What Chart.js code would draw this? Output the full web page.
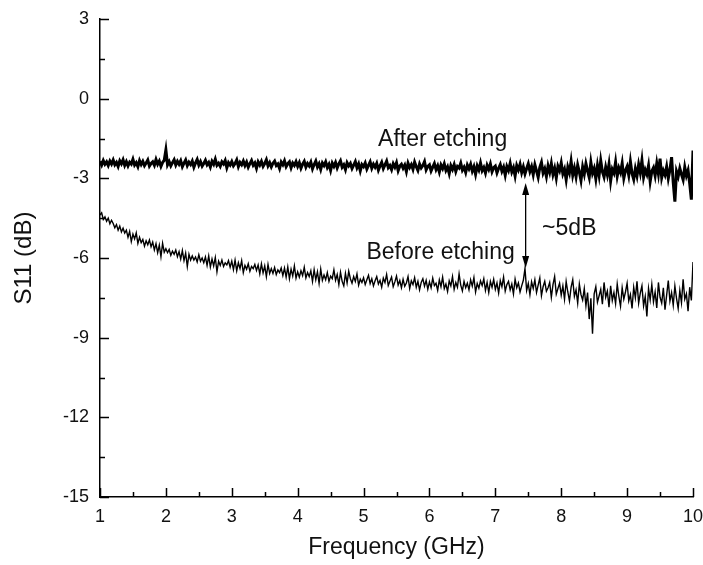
<!DOCTYPE html>
<html>
<head>
<meta charset="utf-8">
<script src="https://cdn.jsdelivr.net/npm/chart.js"></script>
<style>
  body { margin: 0; background: #fff; }
</style>
</head>
<body>
<canvas id="myChart" width="703" height="565"></canvas>
<script>
// frequency points (GHz), one row = 0.2 GHz
const freq = [
  1.000,1.025,1.050,1.075,1.100,1.125,1.150,1.175,
  1.200,1.225,1.250,1.275,1.300,1.325,1.350,1.375,
  1.400,1.425,1.450,1.475,1.500,1.525,1.550,1.575,
  1.600,1.625,1.650,1.675,1.700,1.725,1.750,1.775,
  1.800,1.825,1.850,1.875,1.900,1.925,1.950,1.975,
  2.000,2.025,2.050,2.075,2.100,2.125,2.150,2.175,
  2.200,2.225,2.250,2.275,2.300,2.325,2.350,2.375,
  2.400,2.425,2.450,2.475,2.500,2.525,2.550,2.575,
  2.600,2.625,2.650,2.675,2.700,2.725,2.750,2.775,
  2.800,2.825,2.850,2.875,2.900,2.925,2.950,2.975,
  3.000,3.025,3.050,3.075,3.100,3.125,3.150,3.175,
  3.200,3.225,3.250,3.275,3.300,3.325,3.350,3.375,
  3.400,3.425,3.450,3.475,3.500,3.525,3.550,3.575,
  3.600,3.625,3.650,3.675,3.700,3.725,3.750,3.775,
  3.800,3.825,3.850,3.875,3.900,3.925,3.950,3.975,
  4.000,4.025,4.050,4.075,4.100,4.125,4.150,4.175,
  4.200,4.225,4.250,4.275,4.300,4.325,4.350,4.375,
  4.400,4.425,4.450,4.475,4.500,4.525,4.550,4.575,
  4.600,4.625,4.650,4.675,4.700,4.725,4.750,4.775,
  4.800,4.825,4.850,4.875,4.900,4.925,4.950,4.975,
  5.000,5.025,5.050,5.075,5.100,5.125,5.150,5.175,
  5.200,5.225,5.250,5.275,5.300,5.325,5.350,5.375,
  5.400,5.425,5.450,5.475,5.500,5.525,5.550,5.575,
  5.600,5.625,5.650,5.675,5.700,5.725,5.750,5.775,
  5.800,5.825,5.850,5.875,5.900,5.925,5.950,5.975,
  6.000,6.025,6.050,6.075,6.100,6.125,6.150,6.175,
  6.200,6.225,6.250,6.275,6.300,6.325,6.350,6.375,
  6.400,6.425,6.450,6.475,6.500,6.525,6.550,6.575,
  6.600,6.625,6.650,6.675,6.700,6.725,6.750,6.775,
  6.800,6.825,6.850,6.875,6.900,6.925,6.950,6.975,
  7.000,7.025,7.050,7.075,7.100,7.125,7.150,7.175,
  7.200,7.225,7.250,7.275,7.300,7.325,7.350,7.375,
  7.400,7.425,7.450,7.475,7.500,7.525,7.550,7.575,
  7.600,7.625,7.650,7.675,7.700,7.725,7.750,7.775,
  7.800,7.825,7.850,7.875,7.900,7.925,7.950,7.975,
  8.000,8.025,8.050,8.075,8.100,8.125,8.150,8.175,
  8.200,8.225,8.250,8.275,8.300,8.325,8.350,8.375,
  8.400,8.425,8.450,8.475,8.500,8.525,8.550,8.575,
  8.600,8.625,8.650,8.675,8.700,8.725,8.750,8.775,
  8.800,8.825,8.850,8.875,8.900,8.925,8.950,8.975,
  9.000,9.025,9.050,9.075,9.100,9.125,9.150,9.175,
  9.200,9.225,9.250,9.275,9.300,9.325,9.350,9.375,
  9.400,9.425,9.450,9.475,9.500,9.525,9.550,9.575,
  9.600,9.625,9.650,9.675,9.700,9.725,9.750,9.775,
  9.800,9.825,9.850,9.875,9.900,9.925,9.950,9.975,
  10.000
];

// S11 after etching (dB)
const afterEtching = [
  -2.36,-2.50,-2.33,-2.47,-2.38,-2.52,-2.35,-2.46,
  -2.31,-2.49,-2.40,-2.55,-2.34,-2.45,-2.30,-2.51,
  -2.37,-2.53,-2.39,-2.46,-2.28,-2.50,-2.41,-2.56,
  -2.33,-2.48,-2.36,-2.52,-2.42,-2.31,-2.54,-2.44,
  -2.38,-2.51,-2.29,-2.47,-2.35,-2.55,-2.40,-2.32,
  -1.93,-2.49,-2.37,-2.53,-2.41,-2.30,-2.50,-2.36,
  -2.47,-2.34,-2.56,-2.43,-2.31,-2.52,-2.39,-2.48,
  -2.35,-2.58,-2.42,-2.29,-2.50,-2.37,-2.54,-2.44,
  -2.32,-2.49,-2.40,-2.57,-2.36,-2.47,-2.28,-2.51,
  -2.43,-2.55,-2.38,-2.46,-2.33,-2.60,-2.41,-2.50,
  -2.37,-2.53,-2.44,-2.31,-2.56,-2.40,-2.49,-2.35,
  -2.52,-2.39,-2.58,-2.45,-2.33,-2.51,-2.42,-2.62,
  -2.38,-2.50,-2.36,-2.55,-2.44,-2.30,-2.53,-2.41,
  -2.57,-2.43,-2.35,-2.52,-2.46,-2.63,-2.39,-2.49,
  -2.34,-2.56,-2.45,-2.38,-2.60,-2.42,-2.51,-2.37,
  -2.55,-2.41,-2.62,-2.47,-2.36,-2.58,-2.44,-2.53,
  -2.39,-2.64,-2.48,-2.35,-2.57,-2.45,-2.66,-2.42,
  -2.52,-2.38,-2.59,-2.47,-2.70,-2.43,-2.55,-2.40,
  -2.61,-2.46,-2.34,-2.58,-2.49,-2.67,-2.41,-2.53,
  -2.44,-2.63,-2.50,-2.37,-2.60,-2.46,-2.72,-2.48,
  -2.56,-2.42,-2.65,-2.51,-2.38,-2.62,-2.47,-2.58,
  -2.44,-2.69,-2.53,-2.40,-2.63,-2.49,-2.35,-2.60,
  -2.52,-2.67,-2.45,-2.58,-2.41,-2.71,-2.54,-2.47,
  -2.62,-2.50,-2.74,-2.43,-2.59,-2.48,-2.66,-2.39,
  -2.56,-2.70,-2.46,-2.61,-2.52,-2.37,-2.68,-2.55,
  -2.49,-2.72,-2.58,-2.44,-2.67,-2.53,-2.76,-2.50,
  -2.63,-2.45,-2.70,-2.57,-2.82,-2.52,-2.66,-2.48,
  -2.74,-2.55,-2.61,-2.43,-2.69,-2.58,-2.78,-2.50,
  -2.64,-2.47,-2.73,-2.56,-2.85,-2.53,-2.68,-2.42,
  -2.71,-2.59,-2.80,-2.51,-2.66,-2.46,-2.75,-2.60,
  -2.54,-2.79,-2.62,-2.48,-2.73,-2.58,-2.88,-2.55,
  -2.70,-2.44,-2.76,-2.60,-2.91,-2.52,-2.68,-2.47,
  -2.78,-2.57,-2.83,-2.63,-2.45,-2.74,-2.56,-2.86,
  -2.49,-2.72,-2.96,-2.59,-2.40,-2.80,-2.64,-2.93,
  -2.53,-2.77,-2.44,-2.85,-2.62,-2.98,-2.55,-2.71,
  -2.42,-2.83,-2.66,-3.05,-2.58,-2.79,-2.36,-2.88,
  -2.61,-2.94,-2.50,-2.76,-3.08,-2.57,-2.84,-2.45,
  -2.72,-2.97,-2.40,-2.81,-2.63,-3.02,-2.52,-2.89,
  -2.34,-2.75,-2.95,-2.58,-2.86,-2.47,-3.10,-2.66,
  -2.80,-2.39,-2.92,-2.61,-2.78,-2.43,-2.99,-2.70,
  -2.55,-2.88,-2.37,-2.82,-3.04,-2.64,-2.91,-2.48,
  -2.79,-2.33,-2.96,-2.68,-2.85,-2.52,-3.12,-2.73,
  -2.60,-2.90,-2.44,-2.83,-2.26,-2.97,-2.71,-2.87,
  -2.56,-3.00,-2.68,-2.20,-3.15,-3.88,-2.74,-2.93,
  -2.62,-2.85,-3.05,-2.58,-2.90,-2.70,-3.20,-3.80,
  -1.95
];

// S11 before etching (dB)
const beforeEtching = [
  -4.38,-4.30,-4.55,-4.45,-4.62,-4.50,-4.71,-4.58,
  -4.70,-4.86,-4.74,-4.95,-4.80,-5.02,-4.88,-5.06,
  -4.95,-5.22,-5.00,-5.38,-5.10,-5.28,-5.05,-5.45,
  -5.22,-5.42,-5.30,-5.55,-5.35,-5.50,-5.32,-5.58,
  -5.40,-5.70,-5.46,-5.80,-5.52,-5.95,-5.45,-5.78,
  -5.65,-5.80,-5.68,-5.90,-5.74,-5.86,-5.70,-5.95,
  -5.76,-6.04,-5.72,-6.10,-5.82,-6.32,-5.86,-6.08,
  -5.92,-6.08,-5.96,-6.15,-5.88,-6.12,-6.00,-6.18,
  -5.96,-6.28,-5.92,-6.34,-6.04,-6.30,-5.98,-6.52,
  -6.12,-6.28,-6.08,-6.32,-6.18,-6.26,-6.10,-6.35,
  -6.12,-6.44,-6.08,-6.48,-6.18,-6.40,-6.10,-6.55,
  -6.28,-6.42,-6.22,-6.50,-6.32,-6.40,-6.24,-6.47,
  -6.26,-6.60,-6.22,-6.56,-6.30,-6.70,-6.24,-6.58,
  -6.40,-6.58,-6.36,-6.62,-6.45,-6.55,-6.38,-6.66,
  -6.38,-6.72,-6.34,-6.78,-6.42,-6.68,-6.30,-6.76,
  -6.52,-6.72,-6.48,-6.66,-6.35,-6.75,-6.55,-6.70,
  -6.48,-6.88,-6.44,-6.82,-6.52,-6.95,-6.42,-6.84,
  -6.64,-6.82,-6.55,-6.88,-6.68,-6.78,-6.45,-6.84,
  -6.62,-7.00,-6.54,-6.88,-7.05,-6.58,-6.94,-6.50,
  -6.78,-6.95,-6.70,-6.88,-6.60,-7.02,-6.80,-6.92,
  -6.74,-7.00,-6.82,-6.65,-6.96,-6.78,-7.05,-6.86,
  -6.70,-6.98,-6.84,-7.10,-6.76,-6.92,-6.62,-7.04,
  -6.88,-6.72,-7.08,-6.90,-6.68,-7.02,-6.85,-7.12,
  -6.80,-7.06,-6.94,-6.70,-7.15,-6.86,-7.00,-6.74,
  -7.10,-6.88,-7.20,-6.92,-6.78,-7.06,-6.84,-7.18,
  -6.90,-7.12,-6.76,-7.04,-6.95,-7.22,-6.82,-7.08,
  -6.72,-7.15,-6.98,-7.26,-6.86,-7.05,-6.70,-7.18,
  -6.92,-7.10,-6.60,-7.02,-7.24,-6.88,-7.12,-6.95,
  -7.20,-6.82,-7.06,-6.74,-7.28,-6.96,-7.14,-6.86,
  -7.04,-6.78,-7.22,-6.92,-7.30,-6.88,-7.10,-6.80,
  -7.18,-6.94,-7.32,-6.85,-7.08,-6.72,-7.25,-7.00,
  -6.88,-7.20,-6.98,-7.35,-6.80,-7.12,-6.94,-7.28,
  -7.05,-6.84,-6.40,-7.22,-6.96,-7.38,-6.90,-7.15,
  -6.82,-7.30,-7.02,-6.75,-7.42,-7.08,-6.88,-7.25,
  -7.12,-6.92,-7.48,-7.00,-6.70,-7.36,-7.15,-6.95,
  -7.40,-7.05,-7.55,-6.88,-7.28,-7.62,-7.10,-6.82,
  -7.45,-7.20,-7.70,-6.98,-7.38,-7.58,-7.15,-7.80,
  -7.30,-8.30,-7.52,-8.85,-7.35,-7.08,-7.66,-7.42,
  -7.18,-7.74,-6.92,-7.48,-7.25,-7.85,-7.05,-7.60,
  -7.30,-7.72,-6.98,-7.45,-7.82,-7.12,-7.55,-7.28,
  -6.95,-7.62,-7.38,-7.90,-7.10,-7.50,-6.88,-7.70,
  -7.32,-7.05,-7.80,-7.45,-8.20,-7.15,-7.58,-7.00,
  -7.65,-7.28,-7.88,-6.92,-7.48,-7.70,-7.12,-7.95,
  -7.40,-6.85,-7.62,-7.30,-7.78,-7.05,-7.52,-7.90,
  -7.22,-7.68,-6.80,-7.55,-7.35,-8.00,-7.10,-7.60,
  -6.15
];

const xTicks = [1,2,3,4,5,6,7,8,9,10];
const yTicks = [-15,-12,-9,-6,-3,0,3];

// text labels and the ~5dB arrow, placed in data units
const labels = [
  { text: 'After etching', x: 6.2, y: -1.55 },
  { text: 'Before etching', x: 6.17, y: -5.81 },
  { text: '~5dB', x: 7.71, y: -4.91, align: 'left' }
];
const arrow = { x: 7.46, top: -3.18, bottom: -6.38 };

const font = 'Liberation Sans, Arial, sans-serif';

const pts = (ys) => ys.map((y, i) => ({ x: freq[i], y: y }));

// inward tick marks on left and bottom axes
const innerTicks = {
  id: 'innerTicks',
  afterDraw(chart) {
    const ctx = chart.ctx;
    const xs = chart.scales.x, ys = chart.scales.y;
    const left = chart.chartArea.left, bottom = chart.chartArea.bottom;
    ctx.save();
    ctx.strokeStyle = '#000';
    ctx.lineWidth = 1.5;
    ctx.beginPath();
    for (let v = 1; v <= 10; v += 0.5) {
      const px = Math.round(xs.getPixelForValue(v)) + 0.5;
      const len = Number.isInteger(v) ? 9 : 5;
      ctx.moveTo(px, bottom);
      ctx.lineTo(px, bottom - len);
    }
    for (let v = -15; v <= 3; v += 1.5) {
      const py = Math.round(ys.getPixelForValue(v)) + 0.5;
      const len = Number.isInteger(v / 3) ? 9 : 5;
      ctx.moveTo(left, py);
      ctx.lineTo(left + len, py);
    }
    ctx.stroke();
    ctx.restore();
  }
};

const annotations = {
  id: 'annotations',
  afterDatasetsDraw(chart) {
    const ctx = chart.ctx;
    const xs = chart.scales.x, ys = chart.scales.y;
    ctx.save();
    ctx.fillStyle = '#111';
    ctx.font = '23px ' + font;
    ctx.textBaseline = 'middle';
    labels.forEach(l => {
      ctx.textAlign = l.align || 'center';
      ctx.fillText(l.text, xs.getPixelForValue(l.x), ys.getPixelForValue(l.y));
    });

    const ax = xs.getPixelForValue(arrow.x);
    const y1 = ys.getPixelForValue(arrow.top);
    const y2 = ys.getPixelForValue(arrow.bottom);
    ctx.strokeStyle = '#000';
    ctx.fillStyle = '#000';
    ctx.lineWidth = 1.3;
    ctx.beginPath();
    ctx.moveTo(ax, y1 + 8);
    ctx.lineTo(ax, y2 - 8);
    ctx.stroke();
    ctx.beginPath();
    ctx.moveTo(ax, y1);
    ctx.lineTo(ax - 3.5, y1 + 12);
    ctx.lineTo(ax + 3.5, y1 + 12);
    ctx.closePath();
    ctx.fill();
    ctx.beginPath();
    ctx.moveTo(ax, y2);
    ctx.lineTo(ax - 3.5, y2 - 12);
    ctx.lineTo(ax + 3.5, y2 - 12);
    ctx.closePath();
    ctx.fill();
    ctx.restore();
  }
};

new Chart(document.getElementById('myChart'), {
  type: 'line',
  data: {
    datasets: [
      {
        label: 'After etching',
        data: pts(afterEtching),
        borderColor: '#000',
        borderWidth: 3,
        pointRadius: 0,
        tension: 0
      },
      {
        label: 'Before etching',
        data: pts(beforeEtching),
        borderColor: '#000',
        borderWidth: 1.4,
        pointRadius: 0,
        tension: 0
      }
    ]
  },
  options: {
    responsive: false,
    animation: false,
    layout: { padding: { top: 19, right: 10, left: 0, bottom: 0 } },
    plugins: {
      legend: { display: false },
      tooltip: { enabled: false }
    },
    scales: {
      x: {
        type: 'linear',
        min: 1,
        max: 10,
        afterBuildTicks: s => { s.ticks = xTicks.map(v => ({ value: v })); },
        afterFit: s => { s.height = 68; s.paddingLeft = 0; s.paddingRight = 0; },
        grid: { display: false, drawTicks: false },
        border: { display: true, color: '#000', width: 1.5 },
        ticks: { color: '#111', font: { family: font, size: 18 }, padding: 9, maxRotation: 0 },
        title: { display: true, text: 'Frequency (GHz)', color: '#111', font: { family: font, size: 23 }, padding: { top: 4 } }
      },
      y: {
        type: 'linear',
        min: -15,
        max: 3,
        afterBuildTicks: s => { s.ticks = yTicks.map(v => ({ value: v })); },
        afterFit: s => { s.width = 100; s.paddingTop = 0; s.paddingBottom = 0; },
        grid: { display: false, drawTicks: false },
        border: { display: true, color: '#000', width: 1.5 },
        ticks: { color: '#111', font: { family: font, size: 18 }, padding: 11 },
        title: { display: true, text: 'S11 (dB)', color: '#111', font: { family: font, size: 24 }, padding: { top: 10, bottom: 4 } }
      }
    }
  },
  plugins: [innerTicks, annotations]
});
</script>
</body>
</html>
